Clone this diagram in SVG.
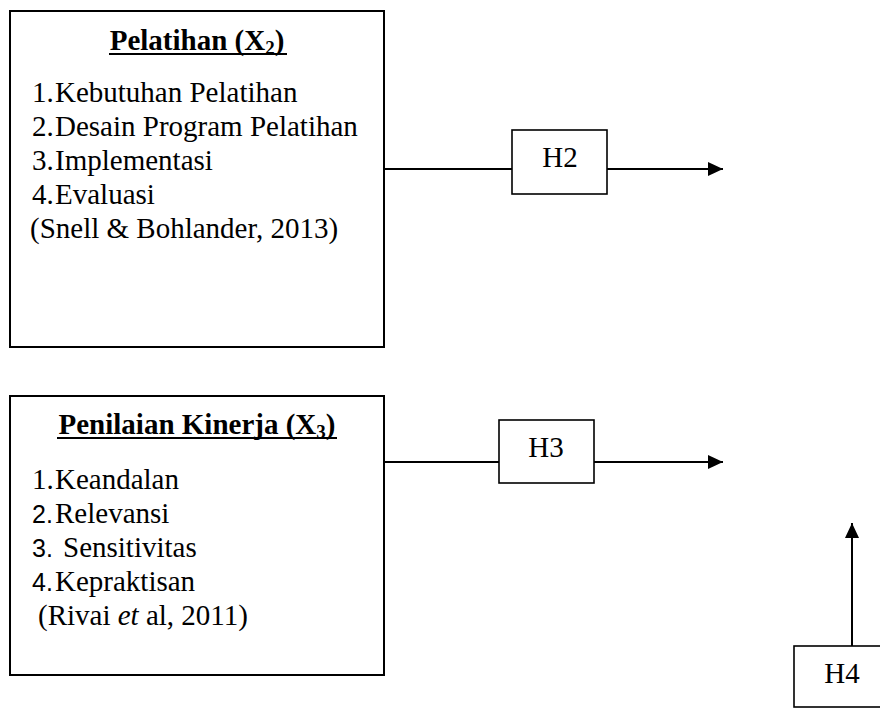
<svg xmlns="http://www.w3.org/2000/svg" width="880" height="709" viewBox="0 0 880 709">
  <style>
    .box { fill: #ffffff; stroke: #000000; stroke-width: 2; }
    .hbox { fill: #ffffff; stroke: #000000; stroke-width: 1.6; }
    .t { font-family: "Liberation Serif", "Times New Roman", serif; font-size: 29px; fill: #000000; }
    .title { font-weight: bold; }
    .sub { font-size: 19px; }
    .sans { font-family: "Liberation Sans", Arial, sans-serif; font-size: 25px; }
    .ul { stroke: #000000; stroke-width: 2; }
    .conn { fill: none; stroke: #000000; stroke-width: 2; }
  </style>
  <defs>
    <marker id="arrow" markerUnits="userSpaceOnUse" markerWidth="15" markerHeight="14" refX="15" refY="7" orient="auto">
      <path d="M0,0 L15,7 L0,14 Z" fill="#000000"/>
    </marker>
  </defs>
  <rect width="880" height="709" fill="#ffffff"/>

  <g id="connectors">
    <line class="conn" x1="384" y1="169" x2="512" y2="169"/>
    <line class="conn" x1="607" y1="169" x2="723" y2="169" marker-end="url(#arrow)"/>
    <line class="conn" x1="384" y1="462" x2="499" y2="462"/>
    <line class="conn" x1="594" y1="462" x2="723" y2="462" marker-end="url(#arrow)"/>
    <line class="conn" x1="852" y1="646" x2="852" y2="523" marker-end="url(#arrow)"/>
  </g>

  <g id="pelatihan">
    <rect class="box" x="10" y="11" width="374" height="336"/>
    <text class="t title" x="197" y="50" text-anchor="middle">Pelatihan (X<tspan class="sub" dy="4">2</tspan><tspan dy="-4">)</tspan></text>
    <line class="ul" x1="109" y1="54" x2="287" y2="54"/>
    <text class="t" y="102"><tspan x="32">1.</tspan><tspan x="55">Kebutuhan Pelatihan</tspan></text>
    <text class="t" y="136"><tspan x="32">2.</tspan><tspan x="55">Desain Program Pelatihan</tspan></text>
    <text class="t" y="170"><tspan x="32">3.</tspan><tspan x="55">Implementasi</tspan></text>
    <text class="t" y="204"><tspan x="32">4.</tspan><tspan x="55">Evaluasi</tspan></text>
    <text class="t" x="30" y="238">(Snell &amp; Bohlander, 2013)</text>
  </g>

  <g id="penilaian-kinerja">
    <rect class="box" x="10" y="396" width="374" height="279"/>
    <text class="t title" x="197" y="434" text-anchor="middle">Penilaian Kinerja (X<tspan class="sub" dy="4">3</tspan><tspan dy="-4">)</tspan></text>
    <line class="ul" x1="57" y1="438" x2="337" y2="438"/>
    <text class="t" y="489"><tspan x="32">1.</tspan><tspan x="55">Keandalan</tspan></text>
    <text class="t" y="523"><tspan class="sans" x="32">2.</tspan><tspan x="55">Relevansi</tspan></text>
    <text class="t" y="557"><tspan class="sans" x="32">3.</tspan><tspan x="63">Sensitivitas</tspan></text>
    <text class="t" y="591"><tspan class="sans" x="32">4.</tspan><tspan x="55">Kepraktisan</tspan></text>
    <text class="t" x="38" y="625">(Rivai <tspan font-style="italic">et</tspan> al, 2011)</text>
  </g>

  <g id="h2">
    <rect class="hbox" x="512" y="130" width="95" height="64"/>
    <text class="t" x="560" y="167" text-anchor="middle">H2</text>
  </g>

  <g id="h3">
    <rect class="hbox" x="499" y="420" width="95" height="63"/>
    <text class="t" x="546" y="457" text-anchor="middle">H3</text>
  </g>

  <g id="h4">
    <rect class="hbox" x="794" y="646" width="96" height="61"/>
    <text class="t" x="842" y="683" text-anchor="middle">H4</text>
  </g>
</svg>
